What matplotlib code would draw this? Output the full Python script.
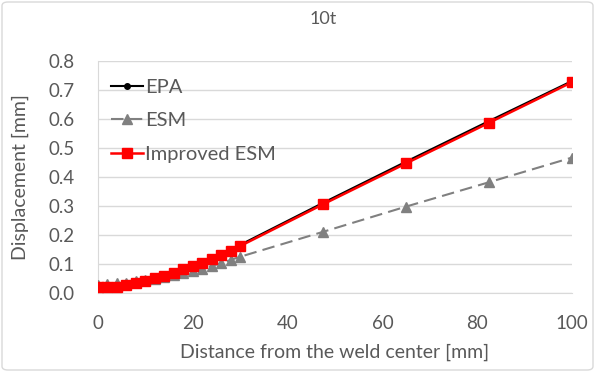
import matplotlib
matplotlib.use("Agg")
import matplotlib.pyplot as plt
from matplotlib.patches import FancyBboxPatch

x = [0, 2, 4, 6, 8, 10, 12, 14, 16, 18, 20, 22, 24, 26, 28, 30, 47.5, 65, 82.5, 100]
epa = [0.020, 0.021, 0.023, 0.028, 0.036, 0.043, 0.051, 0.059, 0.070, 0.082, 0.094, 0.106, 0.118, 0.133, 0.149, 0.166,
       0.311, 0.453, 0.593, 0.731]
esm = [0.028, 0.030, 0.033, 0.036, 0.040, 0.044, 0.049, 0.055, 0.061, 0.068, 0.076, 0.084, 0.093, 0.103, 0.114, 0.125,
       0.211, 0.298, 0.382, 0.467]
improved = [0.020, 0.020, 0.022, 0.028, 0.036, 0.043, 0.051, 0.059, 0.070, 0.082, 0.093, 0.105, 0.116, 0.131, 0.146, 0.162,
            0.306, 0.447, 0.587, 0.727]

xticks = [0, 20, 40, 60, 80, 100]
yticks = [0.0, 0.1, 0.2, 0.3, 0.4, 0.5, 0.6, 0.7, 0.8]

plt.rcParams['font.family'] = ['Lato', 'DejaVu Sans']
txt = '#595959'

fig = plt.figure(figsize=(5.95, 3.72), dpi=100)
ax = fig.add_axes([98/595, 1-293/372, (572-98)/595, (293-61)/372])

ax.plot(x, esm, color='#808080', lw=1.5, ls=(0, (6, 3)), marker='^', ms=6.5, label='ESM', zorder=3)
ax.plot(x, epa, color='black', lw=1.5, marker='o', ms=4, label='EPA', zorder=4)
ax.plot(x, improved, color='#ff0000', lw=1.8, marker='s', ms=7, label='Improved ESM', zorder=5)

ax.set_xlim(0, 100)
ax.set_ylim(0, 0.8)
ax.set_xticks(xticks)
ax.set_yticks(yticks)
ax.set_yticklabels([f'{v:.1f}' for v in yticks])
ax.grid(axis='y', color='#d9d9d9', lw=1)
ax.set_axisbelow(True)
for s in ['top', 'right']:
    ax.spines[s].set_visible(False)
ax.spines['left'].set_color('#d9d9d9')
ax.spines['bottom'].set_color('#d9d9d9')
ax.tick_params(length=0, labelsize=13.5, colors=txt)
ax.tick_params(axis='y', pad=17)
ax.tick_params(axis='x', pad=16)
ax.set_xlabel('Distance from the weld center [mm]', fontsize=14, color=txt, labelpad=8)
ax.set_ylabel('Displacement [mm]', fontsize=14, color=txt, labelpad=14)
fig.text(323/595, 1-19/372, '10t', ha='center', va='center', fontsize=13, color=txt)

h, l = ax.get_legend_handles_labels()
order = [1, 0, 2]
ax.legend([h[i] for i in order], [l[i] for i in order], loc='upper left', frameon=False,
          fontsize=14.5, labelcolor=txt, handlelength=1.6, handletextpad=0.1, labelspacing=0.8,
          bbox_to_anchor=(-0.011, 1.0))

fig.patches.append(FancyBboxPatch((2/595, 2/372), 591/595, 368/372, boxstyle='round,pad=0,rounding_size=0.01',
                                  transform=fig.transFigure, fill=False, ec='#d9d9d9', lw=1))
fig.savefig('out.png', dpi=100)
